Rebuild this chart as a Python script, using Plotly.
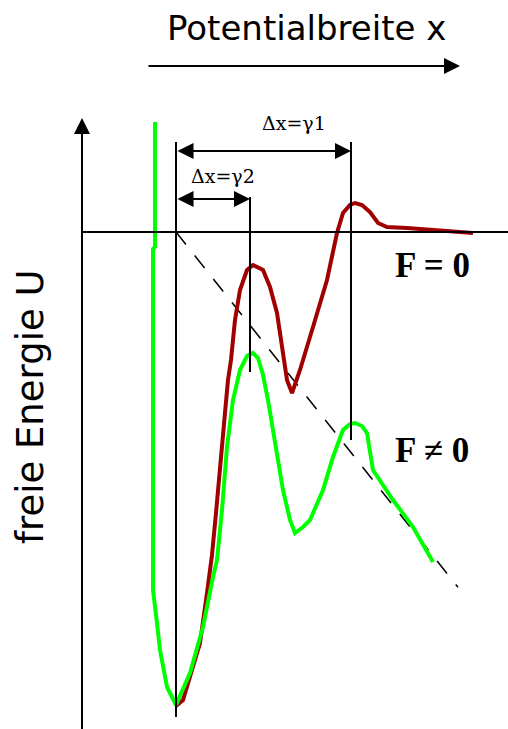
import plotly.graph_objects as go

# Coordinates: x = position along the reaction path (origin at the well minimum),
# U = free energy (0 on the F = 0 asymptote, positive upwards).

# Energy landscape without force (F = 0)
x_f0 = [0, 7, 16, 24, 31, 36, 40, 45, 49, 52, 55, 59, 64, 71, 77, 87, 94, 101, 107,
        111, 116, 124, 137, 151, 161, 167, 174, 179, 186, 194, 202, 211, 231, 257, 297]
u_f0 = [-474, -468, -438, -411, -361, -323, -281, -231, -181, -148, -128, -88, -58, -38,
        -33, -38, -55, -81, -121, -148, -161, -138, -95, -48, -1, 19, 27, 29, 27, 20,
        9, 5, 4, 2, -1]

# Energy landscape tilted by an applied force (F != 0)
x_f1 = [-21, -21, -23, -23, -19, -16, -9, 0, 14, 27, 37, 41, 46, 51, 57, 64, 71, 77,
        82, 87, 92, 97, 107, 114, 119, 127, 134, 147, 157, 167, 174, 179, 186, 191,
        197, 217, 237, 257]
u_f1 = [110, -15, -17, -358, -391, -418, -455, -473, -441, -395, -345, -328, -278,
        -215, -168, -138, -124, -121, -126, -143, -168, -198, -258, -288, -301, -295,
        -288, -258, -225, -198, -192, -191, -194, -201, -238, -268, -295, -330]

# Barrier positions measured from the minimum
gamma1 = 175
gamma2 = 74

# Slope of the linear force term (dashed line)
force_slope = -1.26
force_x = [0, 282]
force_u = [force_slope * v for v in force_x]

labels_dx = ["Δx=γ1", "Δx=γ2"]

fig = go.Figure()

fig.add_trace(go.Scatter(x=force_x, y=force_u, mode="lines",
                         line=dict(color="black", width=1.5, dash="16px,14px"),
                         hoverinfo="skip"))
fig.add_trace(go.Scatter(x=x_f0, y=u_f0, mode="lines",
                         line=dict(color="#a00000", width=4), hoverinfo="skip"))
fig.add_trace(go.Scatter(x=x_f1, y=u_f1, mode="lines",
                         line=dict(color="#00ff00", width=4), hoverinfo="skip"))

X0, X1 = -176, 332
U0, U1 = -497, 232

shapes = []
# F = 0 baseline (horizontal axis)
shapes.append(dict(type="line", x0=-94, x1=X1, y0=0, y1=0,
                   line=dict(color="black", width=2)))
# vertical guide lines at the minimum and at both barriers
shapes.append(dict(type="line", x0=0, x1=0, y0=90, y1=-485,
                   line=dict(color="black", width=2)))
shapes.append(dict(type="line", x0=gamma2, x1=gamma2, y0=35, y1=-140,
                   line=dict(color="black", width=2)))
shapes.append(dict(type="line", x0=gamma1, x1=gamma1, y0=90, y1=-208,
                   line=dict(color="black", width=2)))

annotations = []


def arrow(xh, yh, xt, yt, both=False, width=2):
    annotations.append(dict(
        x=xh, y=yh, ax=xt, ay=yt, xref="x", yref="y", axref="x", ayref="y",
        text="", showarrow=True, arrowhead=2, arrowsize=1.6, arrowwidth=width,
        arrowcolor="black", arrowside="end+start" if both else "end",
        standoff=0, startstandoff=0))


# energy axis with arrow
arrow(-94, 114, -94, U0 - 5)
# direction arrow under the title
arrow(284, 166, -29, 166)
# dimension arrows for the barrier distances
arrow(gamma1, 81, 0, 81, both=True)
arrow(gamma2, 33, 0, 33, both=True)

annotations += [
    dict(x=130, y=204, xref="x", yref="y", text="Potentialbreite x", showarrow=False,
         font=dict(family="DejaVu Sans", size=34, color="black")),
    dict(x=-146, y=-175, xref="x", yref="y", text="freie Energie U", showarrow=False,
         textangle=-90, font=dict(family="DejaVu Sans", size=37, color="black")),
    dict(x=gamma1 / 2 + 30, y=109, xref="x", yref="y", text=labels_dx[0], showarrow=False,
         font=dict(family="DejaVu Serif", size=19, color="black")),
    dict(x=gamma2 / 2 + 10, y=56, xref="x", yref="y", text=labels_dx[1], showarrow=False,
         font=dict(family="DejaVu Serif", size=19, color="black")),
    dict(x=256, y=-33, xref="x", yref="y", text="<b>F = 0</b>", showarrow=False,
         font=dict(family="Liberation Serif", size=35, color="black")),
    dict(x=256, y=-218, xref="x", yref="y", text="<b>F ≠ 0</b>", showarrow=False,
         font=dict(family="Liberation Serif", size=35, color="black")),
]

fig.update_layout(
    width=508, height=729, autosize=False,
    margin=dict(l=0, r=0, t=0, b=0, pad=0),
    paper_bgcolor="white", plot_bgcolor="white",
    showlegend=False,
    xaxis=dict(range=[X0, X1], visible=False, fixedrange=True),
    yaxis=dict(range=[U0, U1], visible=False, fixedrange=True),
    shapes=shapes, annotations=annotations,
)

fig.write_html("out.html", config={"displayModeBar": False})
